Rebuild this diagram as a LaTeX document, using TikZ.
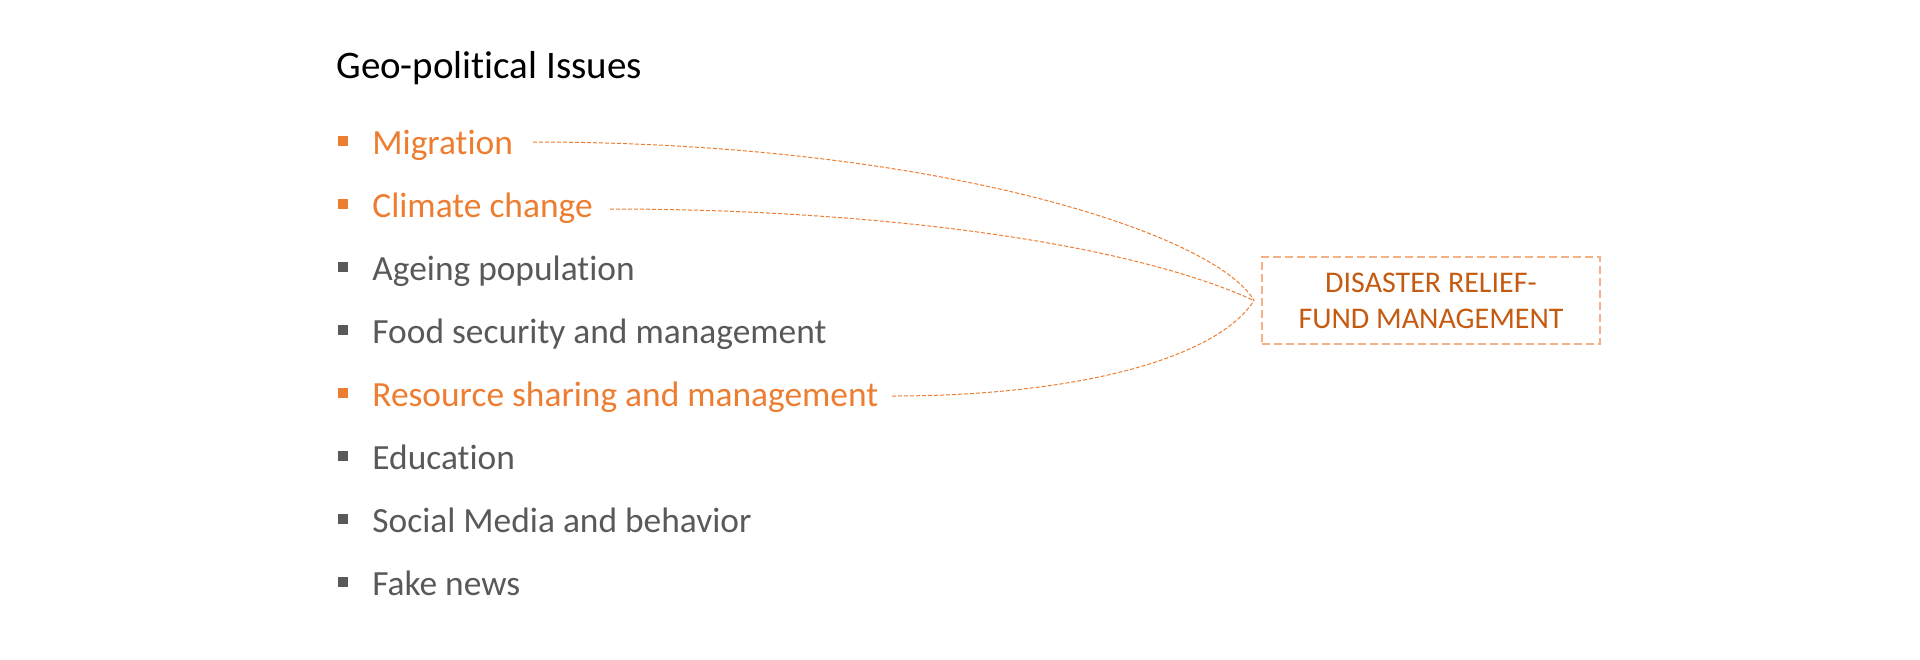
\documentclass[tikz,border=0pt]{standalone}
\usepackage{fontspec}
\setmainfont{Carlito}[Ligatures=NoCommon]
\definecolor{accent}{HTML}{ED7D31}
\definecolor{accentdark}{HTML}{C55A11}
\definecolor{accentlight}{HTML}{F4B183}
\definecolor{graytext}{HTML}{595959}
\tikzset{
	item/.style={anchor=base west, inner sep=0pt, font=\fontsize{17.7}{20}\selectfont},
	link/.style={accent, line width=0.5pt, dash pattern=on 2pt off 1pt},
	fundbox/.style={draw=accentlight, line width=1pt, dash pattern=on 4pt off 2pt,
		minimum width=169pt, minimum height=43.5pt, align=center, text=accentdark,
		font=\fontsize{15}{18}\selectfont}
}
\begin{document}
\begin{tikzpicture}[x=0.5pt,y=0.5pt]
	\useasboundingbox (0,0) rectangle (1920,-659);
	%title
	\node (title) at (336,-78) [anchor=base west, inner sep=0pt, font=\fontsize{19.5}{22}\selectfont] {Geo-political Issues};
	%bullets
	\foreach \y/\c in {141/accent,204/accent,267/graytext,330/graytext,393/accent,456/graytext,519/graytext,582/graytext} {
		\fill [\c] (337.5,-\y) ++(0,5) rectangle ++(10,-10);
	}
	%items
	\node (mig) at (372,-154) [item, text=accent] {Migration};
	\node (clim) at (372,-217) [item, text=accent] {Climate change};
	\node (age) at (372,-280) [item, text=graytext] {Ageing population};
	\node (food) at (372,-343) [item, text=graytext] {Food security and management};
	\node (res) at (372,-406) [item, text=accent] {Resource sharing and management};
	\node (edu) at (372,-469) [item, text=graytext] {Education};
	\node (soc) at (372,-532) [item, text=graytext] {Social Media and behavior};
	\node (fake) at (372,-595) [item, text=graytext] {Fake news};

	\node (relief) at (1431,-300.5) [fundbox] {DISASTER RELIEF-\\FUND MANAGEMENT};

	\coordinate (mig-out) at (533,-142);
	\coordinate (clim-out) at (610,-209);
	\coordinate (res-out) at (892,-396);
	\draw [link] (mig-out) .. controls (933,-142) and (1215,-233) .. ([xshift=-3.5pt]relief.west);
	\draw [link] (clim-out) .. controls (860,-209) and (1119,-239) .. ([xshift=-3.5pt]relief.west);
	\draw [link] (res-out) .. controls (1072,-396) and (1216,-360) .. ([xshift=-3.5pt]relief.west);
\end{tikzpicture}
\end{document}
